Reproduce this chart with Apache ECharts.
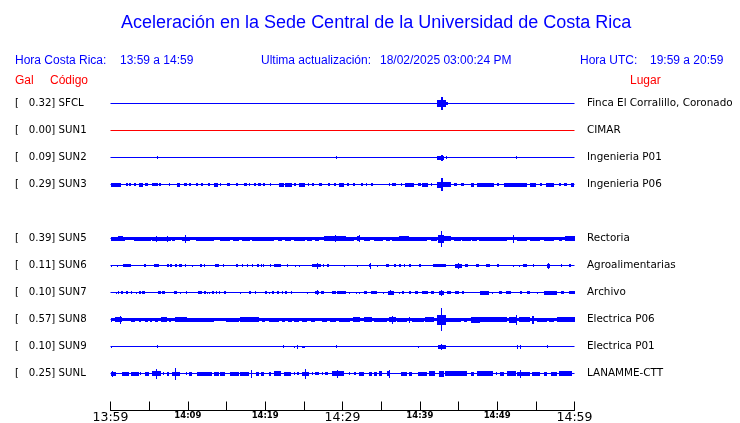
<!DOCTYPE html>
<html><head><meta charset="utf-8">
<script src="https://cdn.jsdelivr.net/npm/echarts@6/dist/echarts.min.js"></script>
<style>html,body{margin:0;padding:0;background:#fff}#c{width:740px;height:423px}</style>
</head><body><div id="c"></div><script>
// ---- data ----
const stationCodes = ['SFCL','SUN1','SUN2','SUN3','SUN5','SUN6','SUN7','SUN8','SUN9','SUNL'];
const stationRows  = [1,2,3,4,6,7,8,9,10,11];
const peakGal      = ['0.32','0.00','0.09','0.29','0.39','0.11','0.10','0.57','0.10','0.25'];
const places       = ['Finca El Corralillo, Coronado','CIMAR','Ingenieria P01','Ingenieria P06','Rectoria','Agroalimentarias','Archivo','Electrica P06','Electrica P01','LANAMME-CTT'];
const traceColors  = ['#0000ff','#ff0000','#0000ff','#0000ff','#0000ff','#0000ff','#0000ff','#0000ff','#0000ff','#0000ff'];
const xTickMinutes = [0,10,20,30,40,50,60];
const xTickLabels  = ['13:59','14:09','14:19','14:29','14:39','14:49','14:59'];
const xMajorLabels = ['13:59','14:29','14:59'];
// bursts: [startMinute, endMinute, half amplitude (units of 1/27 trace spacing)]
const burstsSFCL = [[42.25,42.75,3.5],[42.75,42.95,6.5],[42.95,43.35,3.5],[43.35,43.7,1.5]];
const burstsSUN1 = [];
const burstsSUN2 = [[5.95,6.1,1.5],[29.1,29.25,1.5],[42.2,43.15,2],[42.75,42.95,3],[43.4,43.5,1.5],[52.45,52.6,1.5]];
const burstsSUN3 = [[0,1.4,2],[2.0,2.2,1.5],[2.4,2.7,1.5],[3.1,3.3,1.5],[3.7,4.2,2],[4.5,4.9,1.5],[5.4,5.7,1.5],[5.8,6.1,1.5],[6.25,6.5,1.5],[7.5,7.7,1.5],[8.6,9.05,2],[9.5,9.9,1.5],[10.1,10.4,1.5],[11.1,11.3,1.5],[11.7,11.9,1.5],[12.6,12.9,1.5],[13.4,13.9,2],[14.2,14.35,1.5],[15.1,15.5,1.5],[16.25,16.5,1.5],[17.3,17.7,1.5],[17.9,18.1,1.5],[18.5,18.8,1.5],[19.1,19.4,1.5],[19.7,20.0,1.5],[20.6,20.8,1.5],[21.8,22.4,2],[22.6,23.5,2],[23.7,24.0,1.5],[24.35,25.2,2],[25.6,25.7,1.5],[26.1,26.3,1.5],[26.9,27.4,1.5],[28.1,28.4,1.5],[28.9,29.2,1.5],[29.5,30.2,2],[30.6,30.8,1.5],[31.4,31.6,1.5],[32.4,32.7,1.5],[33.0,33.2,1.5],[33.7,34.0,1.5],[36.0,36.2,1.5],[36.4,36.9,1.5],[37.5,37.7,1.5],[38.1,39.2,2],[39.7,40.1,1.5],[40.3,41.0,2],[41.4,41.6,1.5],[42.2,43.0,3],[42.7,42.95,6.5],[43.0,44.0,2.5],[44.4,44.8,1.5],[45.3,45.7,1.5],[46.6,47.0,2],[47.4,49.6,2],[50.0,50.2,1.5],[50.9,53.9,2],[54.3,55.0,2],[55.6,55.8,1.5],[56.3,57.3,2],[58.0,58.2,1.5],[58.6,59.0,1.5],[59.5,59.9,2]];
const burstsSUN5 = [[0,60,1.5],[0,1.85,2],[1.0,1.6,2.5],[3.0,5.2,2],[5.4,7.8,2],[5.9,6.0,3],[7.3,7.4,3],[8.0,8.4,2],[9.2,10.3,2],[9.6,9.7,4],[11.0,13.4,2],[14.2,15.4,2],[15.9,16.6,2],[17.0,18.0,2],[18.3,21.1,2],[21.6,22.2,2],[22.6,23.3,2],[23.7,25.2,2],[25.4,26.1,2],[26.5,26.9,2],[27.6,30.4,2.5],[29.0,29.1,3.5],[30.4,31.5,2],[31.9,32.3,2.5],[32.1,32.2,3.5],[32.8,33.6,2],[34.1,35.3,2],[35.6,36.2,2],[36.4,40.9,2],[37.3,38.6,2.5],[41.4,42.2,2],[42.4,43.1,4],[42.75,42.9,8],[43.1,44.0,2.5],[44.4,45.3,2],[45.5,46.6,2],[46.8,47.4,2],[47.6,51.3,2],[52.1,52.2,4],[52.6,53.9,2],[54.3,55.6,2],[56.0,57.3,2],[58.0,58.4,2],[58.8,60,2.5]];
const burstsSUN6 = [[0.1,0.2,1],[0.85,0.95,1],[1.6,2.6,1.5],[4.3,4.6,1.5],[5.6,6.3,1.5],[7.3,7.5,1.5],[7.7,7.9,1.5],[8.4,8.6,1.5],[8.8,9.2,1.5],[9.6,9.8,1.5],[10.6,10.7,1],[11.6,11.8,1.5],[12.1,12.2,1.5],[13.5,14.0,1.5],[14.5,14.7,1.5],[16.25,16.5,1.5],[17.0,17.1,1.5],[17.7,17.8,1.5],[18.3,18.4,1.5],[19.0,19.2,1.5],[19.4,19.5,1.5],[19.7,19.8,1.5],[20.6,20.8,1.5],[21.1,22.0,1.5],[22.8,23.0,1.5],[23.8,23.9,1],[24.4,24.5,1],[26.1,27.2,1.5],[26.7,26.8,3],[27.5,27.6,1.5],[28.0,28.2,1.5],[30.15,30.25,1],[31.9,32.0,1],[33.4,33.7,1.5],[33.5,33.6,3],[34.4,34.5,1],[35.6,36.0,1.5],[36.6,36.9,1.5],[37.3,37.5,1.5],[37.9,38.1,1.5],[38.6,38.8,1.5],[39.9,40.2,1.5],[41.7,43.4,1.5],[44.6,45.5,2],[44.9,45.0,3],[45.8,46.2,1.5],[47.3,47.6,1.5],[48.5,49.1,1.5],[50.0,50.2,1.5],[52.1,52.2,1],[52.8,52.9,1],[53.4,53.8,1.5],[54.6,54.8,1.5],[56.5,56.8,2],[56.6,56.7,3],[58.2,58.4,1.5],[59.3,59.5,1.5]];
const burstsSUN7 = [[0.65,0.7,1],[1.0,1.16,1.5],[1.42,1.6,1.5],[2.0,2.2,1.5],[2.6,2.8,1.5],[3.36,3.45,1],[3.66,3.9,1.5],[4.1,4.5,1.5],[6.2,6.5,1.5],[6.7,7.1,1.5],[8.2,8.6,1.5],[9.0,9.1,1],[9.7,9.9,1.5],[11.3,11.85,1.5],[12.1,12.3,1.5],[12.5,12.6,1],[12.8,12.9,1],[13.1,13.4,1.5],[13.6,13.8,1.5],[14.0,14.2,1.5],[14.65,14.96,1.5],[16.7,16.8,1],[17.9,18.2,1.5],[18.7,18.8,1.5],[20.0,20.3,1.5],[20.5,20.6,1],[20.9,21.1,1.5],[21.55,21.8,1.5],[22.2,22.3,1.5],[22.6,22.8,1.5],[23.3,23.5,1.5],[25.4,25.5,1],[26.4,26.9,1.5],[26.65,26.75,2.5],[27.2,27.6,1.5],[28.7,29.1,1.5],[29.3,30.4,1.5],[30.8,30.9,1],[31.7,31.8,1],[32.1,32.2,1],[32.8,33.2,1.5],[33.7,34.4,1.5],[35.3,35.4,1],[35.9,36.7,2],[36.2,36.3,2.5],[37.3,37.4,1],[37.7,38.0,1.5],[38.6,38.8,1.5],[39.4,39.7,1.5],[40.3,41.0,1.5],[41.5,41.8,1.5],[42.5,43.1,2],[42.75,42.85,3],[43.5,44.0,1.5],[44.6,45.0,1.5],[45.5,45.7,1.5],[47.8,48.9,2],[49.3,49.4,1],[50.2,50.6,1.5],[51.1,51.8,1.5],[53.0,53.2,1.5],[53.9,54.3,1.5],[55.2,55.3,1],[56.1,57.7,2],[58.2,58.6,1.5],[59.3,60,1.5]];
const burstsSUN8 = [[0,60,1.5],[0,0.2,2],[0.56,1.5,2.5],[1.25,1.35,4],[2.6,3.2,2],[3.66,4.0,2],[4.5,4.9,2],[5.1,5.4,2],[5.8,6.2,2],[6.5,7.3,2.5],[7.5,7.8,2],[8.4,9.9,2.5],[9.9,13.4,2],[13.6,13.7,1.5],[13.9,14.0,1.5],[14.9,16.6,2],[16.8,19.2,2.5],[19.6,20.0,2],[20.5,21.8,2],[22.2,22.6,2],[23.0,23.5,2],[23.7,24.4,2],[24.8,25.4,2],[25.9,26.5,2],[27.4,28.0,2],[28.4,29.1,2],[29.5,31.0,2],[31.3,32.3,2.5],[32.8,33.8,2.5],[34.1,35.8,2],[36.0,36.9,2.5],[36.45,36.55,4],[37.1,38.4,2],[38.55,38.65,3],[39.0,40.5,2],[40.7,41.8,2.5],[42.2,43.4,5],[42.75,42.9,11.5],[43.4,45.3,2],[45.7,46.1,2],[46.6,47.8,3],[47.8,51.3,2.5],[51.5,52.6,3],[52.45,52.55,5],[52.8,54.3,2.5],[54.5,54.7,4],[55.2,56.5,2],[56.7,57.3,2],[57.8,60,2.5]];
const burstsSUN9 = [[0.1,0.2,1],[5.95,6.05,1.5],[22.3,22.4,1.5],[23.7,23.8,1],[24.1,24.2,2],[24.7,25.1,1],[29.2,29.3,1.5],[39.7,39.8,1],[42.4,43.4,2],[42.75,42.9,3],[52.5,52.6,2],[53.0,53.1,2],[56.5,56.6,1.5]];
const burstsSUNL = [[0,0.65,2],[0.15,0.25,3],[1.5,2.4,2],[2.7,3.66,2],[3.8,4.0,1.5],[4.4,5.0,2],[5.4,6.5,2.5],[5.9,6.0,5],[6.8,6.9,1.5],[7.3,7.6,2],[8.0,9.05,2],[8.35,8.45,6],[9.7,9.9,1.5],[10.1,10.5,2],[11.2,13.1,2],[13.4,14.0,2],[14.2,14.8,2],[15.5,16.6,2],[16.8,17.9,2],[18.15,18.25,4],[18.75,19.2,2],[19.4,19.8,2],[20.5,20.7,2],[21.1,22.0,2.5],[22.4,23.3,2],[23.7,23.9,1.5],[24.1,24.4,1.5],[24.8,25.7,2],[25.15,25.25,5],[26.0,26.2,1.5],[26.5,26.9,1.5],[27.3,27.5,1.5],[27.8,28.1,1.5],[28.7,30.2,2.5],[29.25,29.35,4],[30.8,31.0,1.5],[31.5,31.7,1.5],[32.1,32.8,2],[33.4,33.8,2],[34.1,34.4,2],[34.7,35.1,2.5],[35.8,36.2,2.5],[35.95,36.05,4],[37.5,38.4,2],[38.6,39.0,2],[39.7,40.95,2],[41.2,42.0,2.5],[42.5,43.1,3],[43.3,46.1,2.5],[46.6,47.0,2],[47.4,49.4,2.5],[49.8,50.0,1.5],[50.4,50.9,2],[51.3,52.4,2.5],[52.6,54.3,2],[52.95,53.05,4],[54.5,55.6,2],[56.0,56.5,2],[56.9,57.8,2],[58.0,59.7,2.5]];
const allBursts = [burstsSFCL,burstsSUN1,burstsSUN2,burstsSUN3,burstsSUN5,burstsSUN6,burstsSUN7,burstsSUN8,burstsSUN9,burstsSUNL];
const AMP_UNITS_PER_ROW = 27;

// ---- chart ----
const chart = echarts.init(document.getElementById('c'), null, {renderer:'canvas'});
const LBL_FONT = 'DejaVu Sans';
const HDR_FONT = 'Liberation Sans';
const BLUE = '#0000ff', RED = '#ff0000';

function rowLabel(v, right) {
  const i = stationRows.indexOf(v);
  if (i < 0) return '';
  return right ? places[i] : '[   ' + peakGal[i] + '] ' + stationCodes[i];
}

const series = [];
stationRows.forEach((row, i) => {
  series.push({
    type:'line', name: stationCodes[i], data:[[0,row],[60,row]], symbol:'none',
    lineStyle:{color: traceColors[i], width:1}, silent:true, z:2
  });
  series.push({
    type:'custom', name: stationCodes[i] + ' bursts', data: allBursts[i], silent:true, z:3,
    encode:{x:[0,1]},
    renderItem(params, api) {
      const s = api.value(0), e = api.value(1), a = api.value(2);
      const p1 = api.coord([s, row]), p2 = api.coord([e, row]);
      const h = api.size([0, a / AMP_UNITS_PER_ROW])[1];
      const cy = p1[1];
      const y0 = Math.round(cy - h), y1 = Math.round(cy + h);
      const x0 = Math.round(p1[0]), x1 = Math.max(x0 + 1, Math.round(p2[0]));
      return {type:'rect', shape:{x:x0, y:y0, width:x1-x0, height:Math.max(1,y1-y0)}, style:{fill: traceColors[i]}};
    }
  });
});

const headerTexts = [
  {t:'Aceleración en la Sede Central de la Universidad de Costa Rica', x:121, y:25, c:BLUE, s:18},
  {t:'Hora Costa Rica:', x:15, y:62, c:BLUE, s:12},
  {t:'13:59 a 14:59', x:120, y:62, c:BLUE, s:12},
  {t:'Ultima actualización:', x:261, y:62, c:BLUE, s:12},
  {t:'18/02/2025 03:00:24 PM', x:380, y:62, c:BLUE, s:12},
  {t:'Hora UTC:', x:580, y:62, c:BLUE, s:12},
  {t:'19:59 a 20:59', x:650, y:62, c:BLUE, s:12},
  {t:'Gal', x:15, y:82, c:RED, s:12},
  {t:'Código', x:50, y:82, c:RED, s:12},
  {t:'Lugar', x:630, y:82, c:RED, s:12}
];

chart.setOption({
  animation:false,
  backgroundColor:'#ffffff',
  grid:{left:110.5, right:165.5, top:76.5, bottom:12.5, containLabel:false, outerBoundsMode:'none'},
  xAxis:{
    type:'value', min:0, max:60, interval:5, position:'bottom',
    axisLine:{show:true, onZero:false, lineStyle:{color:'#000', width:1}},
    axisTick:{show:true, inside:true, length:9, lineStyle:{color:'#000', width:1}},
    splitLine:{show:false},
    axisLabel:{
      margin:1, color:'#000',
      formatter(v){
        const i = xTickMinutes.indexOf(v);
        if (i < 0) return '';
        const t = xTickLabels[i];
        return xMajorLabels.includes(t) ? '{big|' + t + '}' : '{small|' + t + '}';
      },
      rich:{
        big:{fontFamily:LBL_FONT, fontSize:12.5, color:'#000'},
        small:{fontFamily:LBL_FONT, fontSize:8.5, fontWeight:'bold', color:'#000'}
      }
    }
  },
  yAxis:[
    {type:'value', inverse:true, min:0, max:334/27, interval:1, position:'left',
     axisLine:{show:false}, axisTick:{show:false}, splitLine:{show:false},
     axisLabel:{align:'left', margin:95.5, color:'#000', fontFamily:LBL_FONT, fontSize:10.2,
       showMinLabel:true, showMaxLabel:true, formatter:v => rowLabel(v,false)}},
    {type:'value', inverse:true, min:0, max:334/27, interval:1, position:'right',
     axisLine:{show:false}, axisTick:{show:false}, splitLine:{show:false},
     axisLabel:{align:'left', margin:12.5, color:'#000', fontFamily:LBL_FONT, fontSize:10.4,
       formatter:v => rowLabel(v,true)}}
  ],
  graphic: headerTexts.map(h => ({
    type:'text', left:h.x, top:h.y - h.s * 0.6, silent:true,
    style:{text:h.t, fill:h.c, font: h.s + 'px "' + HDR_FONT + '"'}
  })),
  series
});
</script></body></html>
